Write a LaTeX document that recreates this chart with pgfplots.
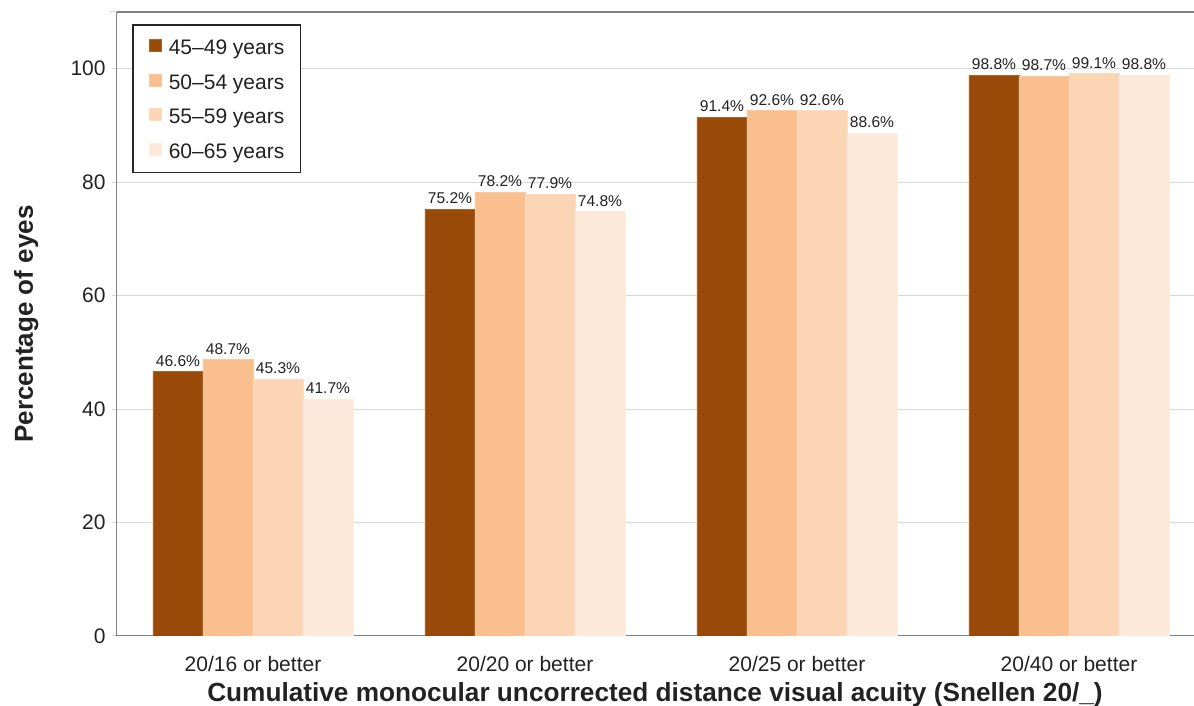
\documentclass[border=0pt]{standalone}
\usepackage{pgfplots}
\pgfplotsset{compat=1.18}
\usepackage{fontspec}
\setmainfont{Liberation Sans}
\definecolor{cA}{RGB}{153,74,8}
\definecolor{cB}{RGB}{249,191,143}
\definecolor{cC}{RGB}{252,213,181}
\definecolor{cD}{RGB}{253,233,217}
\definecolor{txt}{RGB}{34,34,34}
\definecolor{axgray}{RGB}{128,128,128}
\definecolor{gridgray}{RGB}{217,217,217}
\begin{document}
\begin{tikzpicture}
\useasboundingbox (-58.5pt,-35pt) rectangle (538.5pt,318pt);
\begin{axis}[
  at={(0,0)}, anchor=south west,
  scale only axis, width=544pt, height=312pt,
  xmin=-0.5, xmax=3.5, ymin=0, ymax=110,
  axis lines=left, axis line style={-, draw=axgray, line width=0.5pt},
  ybar=0pt, bar width=25pt,
  /pgf/number format/assume math mode=true,
  xtick={0,1,2,3},
  xticklabels={20/16 or better,20/20 or better,20/25 or better,20/40 or better},
  major x tick style={draw=none},
  extra x ticks={0.5,1.5,2.5},
  extra x tick labels={},
  extra x tick style={major tick length=3pt, tick align=outside, tick style={draw=axgray, line width=0.5pt}},
  ytick={0,20,40,60,80,100},
  ymajorgrids,
  grid style={draw=gridgray, line width=0.5pt},
  ytick style={draw=gridgray, line width=0.5pt},
  tick align=outside, major tick length=2.5pt,
  extra y ticks={110}, extra y tick labels={},
  extra y tick style={grid style={draw=axgray, line width=1pt}, tick style={draw=axgray, line width=1pt}, major tick length=3.5pt},
  tick label style={font=\fontsize{10.5}{12}\selectfont, text=txt},
  xticklabel style={anchor=base, yshift=-15pt},
  yticklabel style={anchor=east, inner sep=0pt, xshift=-3pt},
  ylabel={Percentage of eyes},
  ylabel style={at={(axis description cs:-0.0835,0.5)}, anchor=center, rotate=0, font=\bfseries\fontsize{13}{15}\selectfont, text=txt},
  xlabel={Cumulative monocular uncorrected distance visual acuity (Snellen 20/\_)},
  xlabel style={at={(axis description cs:0.4945,-0.1051)}, anchor=base, font=\bfseries\fontsize{13.1}{15}\selectfont, text=txt},
  nodes near coords={\pgfmathprintnumber[fixed,fixed zerofill,precision=1]{\pgfplotspointmeta}\%},
  nodes near coords style={font=\fontsize{7.8}{9}\selectfont, text=txt, inner sep=2.5pt, anchor=south},
  legend cell align=left,
  legend image code/.code={\fill[#1] (0pt,-2.2pt) rectangle (6.3pt,3.8pt);},
  legend style={at={(0,1)}, anchor=north west, xshift=7.7pt, yshift=-6.2pt,
    draw=black!85, line width=0.6pt, font=\fontsize{10.5}{12}\selectfont, text=txt,
    inner xsep=7.9pt, inner ysep=7.05pt, row sep=9.5pt, column sep=3.3pt,
    nodes={inner sep=0pt, text height=7.6pt, text depth=0pt}},
]
\addplot[fill=cA, draw=cA!85!white, line width=0.4pt] coordinates {(0,46.6) (1,75.2) (2,91.4) (3,98.8)};
\addplot[fill=cB, draw=cB!85!white, line width=0.4pt] coordinates {(0,48.7) (1,78.2) (2,92.6) (3,98.7)};
\addplot[fill=cC, draw=cC!85!white, line width=0.4pt] coordinates {(0,45.3) (1,77.9) (2,92.6) (3,99.1)};
\addplot[fill=cD, draw=cD!85!white, line width=0.4pt] coordinates {(0,41.7) (1,74.8) (2,88.6) (3,98.8)};
\legend{45--49 years,50--54 years,55--59 years,60--65 years}
\end{axis}
\end{tikzpicture}
\end{document}
